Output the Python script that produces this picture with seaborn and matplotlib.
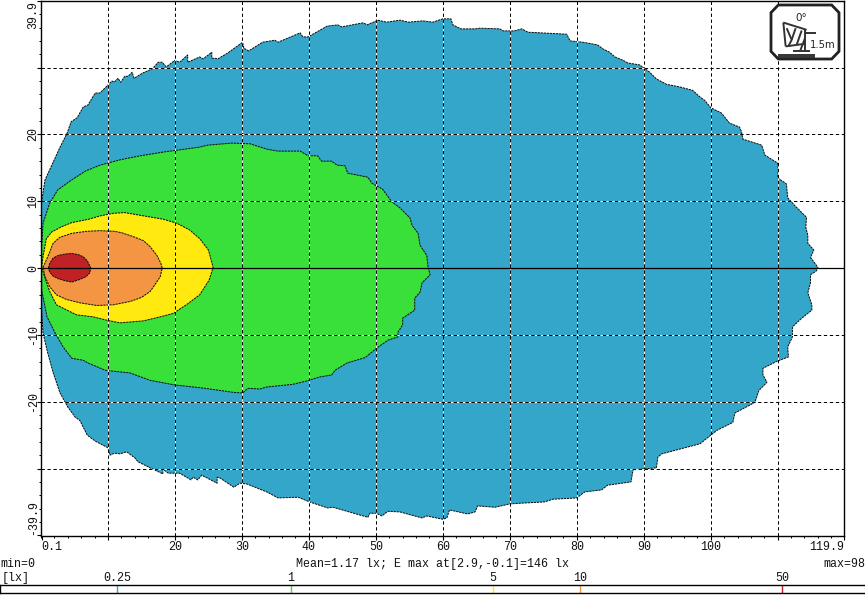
import matplotlib
matplotlib.use("Agg")
import matplotlib.pyplot as plt
import seaborn as sns

sns.set_theme(style="white", rc={"lines.scale_dashes": False})
plt.rcParams["font.family"] = ["Liberation Mono", "DejaVu Sans Mono"]

# Isolux contours on the road plane, metres along (x) and across (y) the beam
outer_x = [0, 0.6, 1.6, 2.8, 3.9, 4.5, 5.4, 6.3, 7.0, 8.1, 8.8, 10.0, 10.6, 10.9, 11.5, 11.9, 12.5, 13.0, 13.6, 13.9,
           15.2, 16.6, 17.5, 18.1, 18.7, 20.0, 20.7, 21.9, 21.9, 23.7, 24.2, 25.5, 25.5, 26.0, 26.4, 27.9, 30.1, 30.3,
           31.0, 33.1, 34.9, 35.4, 38.7, 39.1, 39.9, 42.7, 44.3, 44.9, 48.1, 48.7, 50.3, 51.6, 53.6, 54.9, 57.0, 58.5,
           60.0, 61.2, 61.5, 62.7, 64.8, 65.5, 68.5, 69.0, 70.7, 71.8, 72.7, 78.5, 79.0, 80.9, 83.1, 83.9, 84.9, 85.7,
           86.9, 87.6, 89.4, 90.9, 91.9, 93.4, 95.4, 97.3, 98.4, 99.1, 100.0, 101.6, 102.8, 104.3, 104.6, 104.8, 107.6,
           108.1, 110.0, 110.1, 110.0, 111.3, 111.5, 112.5, 114.3, 114.2, 114.5, 114.5, 115.4, 114.9, 116.0, 115.8,
           114.9, 114.9, 114.5, 115.1, 115.1, 113.6, 112.2, 112.2, 111.5, 111.6, 110.0, 107.8, 107.8, 108.4, 107.2,
           106.6, 103.6, 103.3, 100.9, 98.4, 92.7, 92.1, 91.9, 88.4, 88.1, 84.6, 83.7, 81.2, 80.0, 76.4, 75.2, 71.5,
           70.0, 67.8, 65.2, 64.8, 63.7, 61.0, 60.6, 60.0, 57.6, 56.9, 53.6, 51.8, 50.9, 50.1, 49.1, 48.8, 43.6, 42.8,
           40.1, 38.4, 35.4, 33.7, 30.7, 29.7, 28.8, 26.7, 26.3, 26.3, 24.0, 23.4, 22.7, 22.4, 20.7, 19.0, 18.2, 18.2,
           16.3, 14.5, 14.0, 12.8, 11.8, 11.0, 10.3, 10.0, 8.1, 6.9, 5.8, 5.1, 4.0, 2.8, 1.8, 1.0, 0.3, 0.1]
outer_y = [9.4, 13.2, 15.4, 18.0, 20.2, 21.9, 22.5, 24.1, 24.4, 26.2, 26.2, 27.4, 28.0, 27.8, 28.4, 27.8, 28.7, 28.7, 29.3, 28.4,
           29.2, 29.8, 30.8, 30.8, 30.1, 31.1, 30.8, 31.9, 30.8, 31.6, 31.3, 32.3, 31.4, 31.4, 31.3, 32.2, 33.8, 32.9,
           32.5, 33.8, 34.1, 33.8, 35.2, 34.6, 34.6, 36.2, 36.4, 36.1, 36.7, 36.4, 37.1, 36.8, 37.1, 36.8, 37.0, 36.8,
           37.3, 37.3, 36.4, 35.8, 35.8, 35.9, 35.8, 35.5, 35.5, 35.8, 35.3, 35.0, 34.0, 33.8, 33.4, 32.8, 32.3, 31.6,
           31.1, 30.7, 30.4, 29.3, 28.3, 27.5, 27.1, 26.6, 25.6, 25.1, 24.0, 23.2, 21.7, 21.1, 20.4, 19.3, 18.4,
           16.9, 15.7, 14.7, 13.5, 12.6, 10.5, 9.4, 7.6, 6.1, 4.9, 3.7, 2.7, 1.6, 0.1, -0.4,
           -1.0, -2.2, -3.7, -5.5, -6.3, -7.5, -8.8, -10.3, -11.8, -13.3, -13.9, -15.0, -16.0, -17.1, -18.3,
           -20.1, -21.7, -23.1, -24.3, -26.3, -27.8, -28.3, -29.9, -30.2, -32.0, -32.5, -33.2, -33.5, -34.4, -34.6, -35.0, -35.2,
           -35.3, -35.8, -35.6, -36.5, -36.8, -36.2, -37.4, -37.6, -37.1, -37.4, -36.5, -36.4, -37.1, -36.7, -36.7, -37.3, -35.8, -35.9,
           -35.0, -34.3, -34.4, -33.5, -32.3, -32.2, -32.8, -31.4, -31.3, -32.2, -31.0, -31.7, -31.3, -31.7, -30.7, -30.7, -30.1, -30.8,
           -29.9, -29.0, -28.4, -27.5, -27.8, -27.7, -28.0, -26.9, -25.9, -25.0, -22.8, -22.3, -20.8, -18.6, -15.6, -12.7, -9.7, -6.3]

green_x = [0.1, 0.1, 0.3, 1.3, 2.5, 4.6, 6.6, 8.8, 11.8, 14.8, 18.5, 21.5, 23.7, 24.9, 28.5, 31.2, 33.7, 35.4, 38.7, 39.9,
           41.3, 41.9, 43.4, 44.2, 45.4, 45.8, 48.8, 49.4, 51.0, 52.4, 53.6, 55.1, 55.4, 56.3, 56.6, 57.6, 57.8, 58.1,
           56.9, 56.6, 55.8, 55.8, 54.0, 54.0, 53.3, 53.3, 51.8, 50.1, 48.4, 45.7, 43.9, 43.4, 41.6, 39.7, 37.6, 33.7,
           32.7, 30.9, 30.1, 28.7, 25.2, 23.7, 20.0, 16.3, 13.3, 9.6, 7.0, 6.3, 4.6, 3.3, 2.1, 0.9, 0.1]
green_y = [0.1, 3.1, 6.7, 9.7, 11.7, 13.2, 14.5, 15.4, 16.2, 16.8, 17.4, 17.8, 18.1, 18.4, 18.7, 18.6, 17.8, 17.5, 17.5, 16.8,
           16.8, 16.0, 16.0, 15.4, 15.3, 14.2, 13.6, 12.7, 11.8, 9.9, 9.0, 7.5, 6.4, 5.2, 3.4, 1.9, 0.1, -1.0,
           -2.2, -3.6, -4.5, -6.3, -7.5, -8.5, -9.6, -10.3, -10.8, -12.0, -13.4, -14.2, -15.3, -16.0, -16.3, -16.9, -17.4, -17.8,
           -18.1, -18.0, -18.7, -18.6, -18.1, -17.9, -17.5, -16.8, -15.7, -15.3, -14.2, -13.8, -13.5, -11.8, -9.7, -7.3, -3.3]

yellow_x = [0.1, 0.3, 0.8, 1.6, 3.1, 4.6, 7.1, 8.8, 10.8, 12.5, 14.8, 18.3, 20.3, 22.2, 23.7, 25.0, 25.7, 25.1, 23.7,
            21.7, 19.7, 17.8, 15.3, 11.8, 9.8, 7.8, 5.3, 2.3, 1.3, 0.6]
yellow_y = [0.1, 1.7, 4.4, 5.4, 6.2, 6.8, 7.3, 7.8, 8.2, 8.3, 7.9, 7.3, 6.7, 5.7, 4.4, 2.7, 0.1, -1.8, -4.0,
            -5.5, -6.8, -7.3, -7.9, -8.2, -7.8, -7.3, -7.0, -5.5, -3.5, -1.5]

orange_x = [0.3, 0.8, 1.3, 1.8, 2.8, 4.6, 6.8, 8.8, 11.0, 12.0, 13.8, 15.3, 16.3, 17.3, 17.9, 18.1, 17.8, 17.0, 16.3,
            15.0, 13.3, 10.8, 8.3, 5.8, 3.8, 2.3, 1.3, 0.6]
orange_y = [0.1, 1.2, 2.4, 3.7, 4.6, 5.2, 5.5, 5.6, 5.5, 5.3, 4.7, 4.1, 3.2, 1.9, 0.7, 0.0, -1.3, -2.5, -3.5,
            -4.4, -5.0, -5.5, -5.6, -5.2, -4.7, -4.0, -2.8, -1.3]

red_x = [1.1, 1.3, 1.8, 2.6, 3.6, 4.6, 5.6, 6.3, 6.9, 7.4, 7.3, 6.7, 5.8, 4.6, 3.6, 2.6, 1.8, 1.3]
red_y = [0.0, 0.7, 1.5, 1.9, 2.1, 2.2, 2.0, 1.7, 1.1, 0.1, -0.7, -1.3, -1.7, -2.1, -1.9, -1.6, -1.2, -0.6]

contours = [
    (outer_x, outer_y, "#33A6CA"),
    (green_x, green_y, "#39E039"),
    (yellow_x, yellow_y, "#FFE90F"),
    (orange_x, orange_y, "#F39543"),
    (red_x, red_y, "#BF2125"),
]

x_ticks = [0.1, 20, 30, 40, 50, 60, 70, 80, 90, 100, 119.9]
x_tick_labels = ["0.1", "20", "30", "40", "50", "60", "70", "80", "90", "100", "119.9"]
y_ticks = [-39.9, -20, -10, 0, 10, 20, 39.9]
y_tick_labels = ["-39.9", "-20", "-10", "0", "10", "20", "39.9"]
grid_x = [10, 20, 30, 40, 50, 60, 70, 80, 90, 100, 110]
grid_y = [-30, -20, -10, 10, 20, 30]
minor_x = [2 * i for i in range(60)]
minor_y = [2 * i for i in range(-19, 20)]

scale_levels = [0.25, 1, 5, 10, 50]
scale_labels = ["0.25", "1", "5", "10", "50"]
scale_colors = ["#33A6CA", "#39E039", "#FFE90F", "#F39543", "#BF2125"]

W, H = 865, 595
fig = plt.figure(figsize=(W / 100, H / 100), dpi=100, facecolor="white")


def box(left, top, right, bottom):
    return [left / W, 1 - bottom / H, (right - left) / W, (bottom - top) / H]


ax = fig.add_axes(box(41, 1, 844, 536))
XLIM = (0, 119.9)
YLIM = (-40.1, 39.97)

for xs, ys, colour in contours:
    ax.fill(xs, ys, facecolor=colour, edgecolor="none", zorder=1)
    sns.lineplot(x=xs + xs[:1], y=ys + ys[:1], sort=False, estimator=None, ax=ax, color="#0A0A0A",
                 linewidth=0.7, linestyle=(0, (1.6, 0.6)), legend=False, zorder=2)

ax.set_xlim(*XLIM)
ax.set_ylim(*YLIM)

# Reference grid: black dashes with white gaps so it reads over every colour band
for g in grid_x:
    ax.axvline(g, color="black", lw=0.72, linestyle=(0, (2.4, 1.9)), gapcolor="white", zorder=3)
for g in grid_y:
    ax.axhline(g, color="black", lw=0.72, linestyle=(0, (2.4, 1.9)), gapcolor="white", zorder=3)
ax.axhline(0, color="black", lw=0.9, zorder=4)

ax.set_xticks(minor_x, minor=True)
ax.set_yticks(minor_y, minor=True)
ax.set_xticks(x_ticks + [10, 110])
ax.set_xticklabels(x_tick_labels + ["", ""], fontsize=8.4)
ax.set_yticks(y_ticks + [-30, 30])
ax.set_yticklabels(y_tick_labels + ["", ""], fontsize=8.4, rotation=90, va="center")
ax.tick_params(axis="both", which="major", direction="out", length=2.9, width=0.8, color="black",
               labelcolor="#111111", bottom=True, left=True)
ax.tick_params(axis="x", which="major", pad=0.5)
ax.tick_params(axis="y", which="major", pad=-1.5)
ax.tick_params(axis="both", which="minor", direction="out", length=1.6, width=0.7, color="black",
               bottom=True, left=True)
ax.get_xticklabels()[0].set_ha("left")
ax.get_xticklabels()[10].set_ha("right")
ax.get_yticklabels()[0].set_va("bottom")
ax.get_yticklabels()[6].set_va("top")
for spine in ax.spines.values():
    spine.set_visible(True)
    spine.set_color("black")
    spine.set_linewidth(1.0)

# Summary line
fig.text(0 / W, 1 - 564 / H, "min=0", fontsize=8.4, va="center", ha="left", color="#111111")
fig.text(432.5 / W, 1 - 564 / H, "Mean=1.17 lx; E max at[2.9,-0.1]=146 lx", fontsize=8.4, va="center",
         ha="center", color="#111111")
fig.text(865 / W, 1 - 564 / H, "max=98", fontsize=8.4, va="center", ha="right", color="#111111")
fig.text(2 / W, 1 - 578 / H, "[lx]", fontsize=8.4, va="center", ha="left", color="#111111")

# Logarithmic illuminance scale under the plot
scale = fig.add_axes(box(0, 585, 865, 593))
scale.set_xscale("log")
scale.set_xlim(0.0985, 96.9)
scale.set_ylim(0, 1)
scale.set_yticks([])
for level, colour in zip(scale_levels, scale_colors):
    scale.axvline(level, color=colour, lw=1.0)
scale.set_xticks(scale_levels, scale_labels, fontsize=8.4)
scale.minorticks_off()
scale.xaxis.tick_top()
scale.tick_params(axis="x", which="both", length=0, pad=0.5, labelcolor="#111111")
for spine in scale.spines.values():
    spine.set_visible(True)
    spine.set_color("black")
    spine.set_linewidth(1.0)
scale.spines["right"].set_visible(False)

# Mounting badge: headlamp tilt and mounting height
badge = fig.add_axes(box(771, 5, 839, 59))
badge.set_xlim(33, 237)
badge.set_ylim(178, 15)
badge.axis("off")
badge.fill([55, 215, 237, 237, 215, 55, 33, 33], [15, 15, 38, 155, 178, 178, 155, 38],
           facecolor="white", edgecolor="#222222", lw=2.0, clip_on=False)
strokes = [
    ([70, 140], [68, 90]), ([70, 77], [68, 140]), ([135, 135], [90, 155]), ([135, 167], [100, 100]),
    ([120, 135], [155, 115]), ([80, 95, 85], [85, 120, 140]), ([107, 95], [85, 120]), ([125, 110], [92, 135]),
    ([77, 135], [140, 132]), ([100, 150], [155, 155]), ([55, 165], [165, 165]), ([55, 165], [172, 172]),
]
for sx, sy in strokes:
    badge.plot(sx, sy, color="#333333", lw=1.4, solid_capstyle="butt")
badge.text(125, 55, "0°", fontsize=7.5, family=["DejaVu Sans"], ha="center", va="center", color="#222222")
badge.text(188, 135, "1.5m", fontsize=7.2, family=["DejaVu Sans"], ha="center", va="center", color="#222222")

fig.savefig("out.png", dpi=100)
